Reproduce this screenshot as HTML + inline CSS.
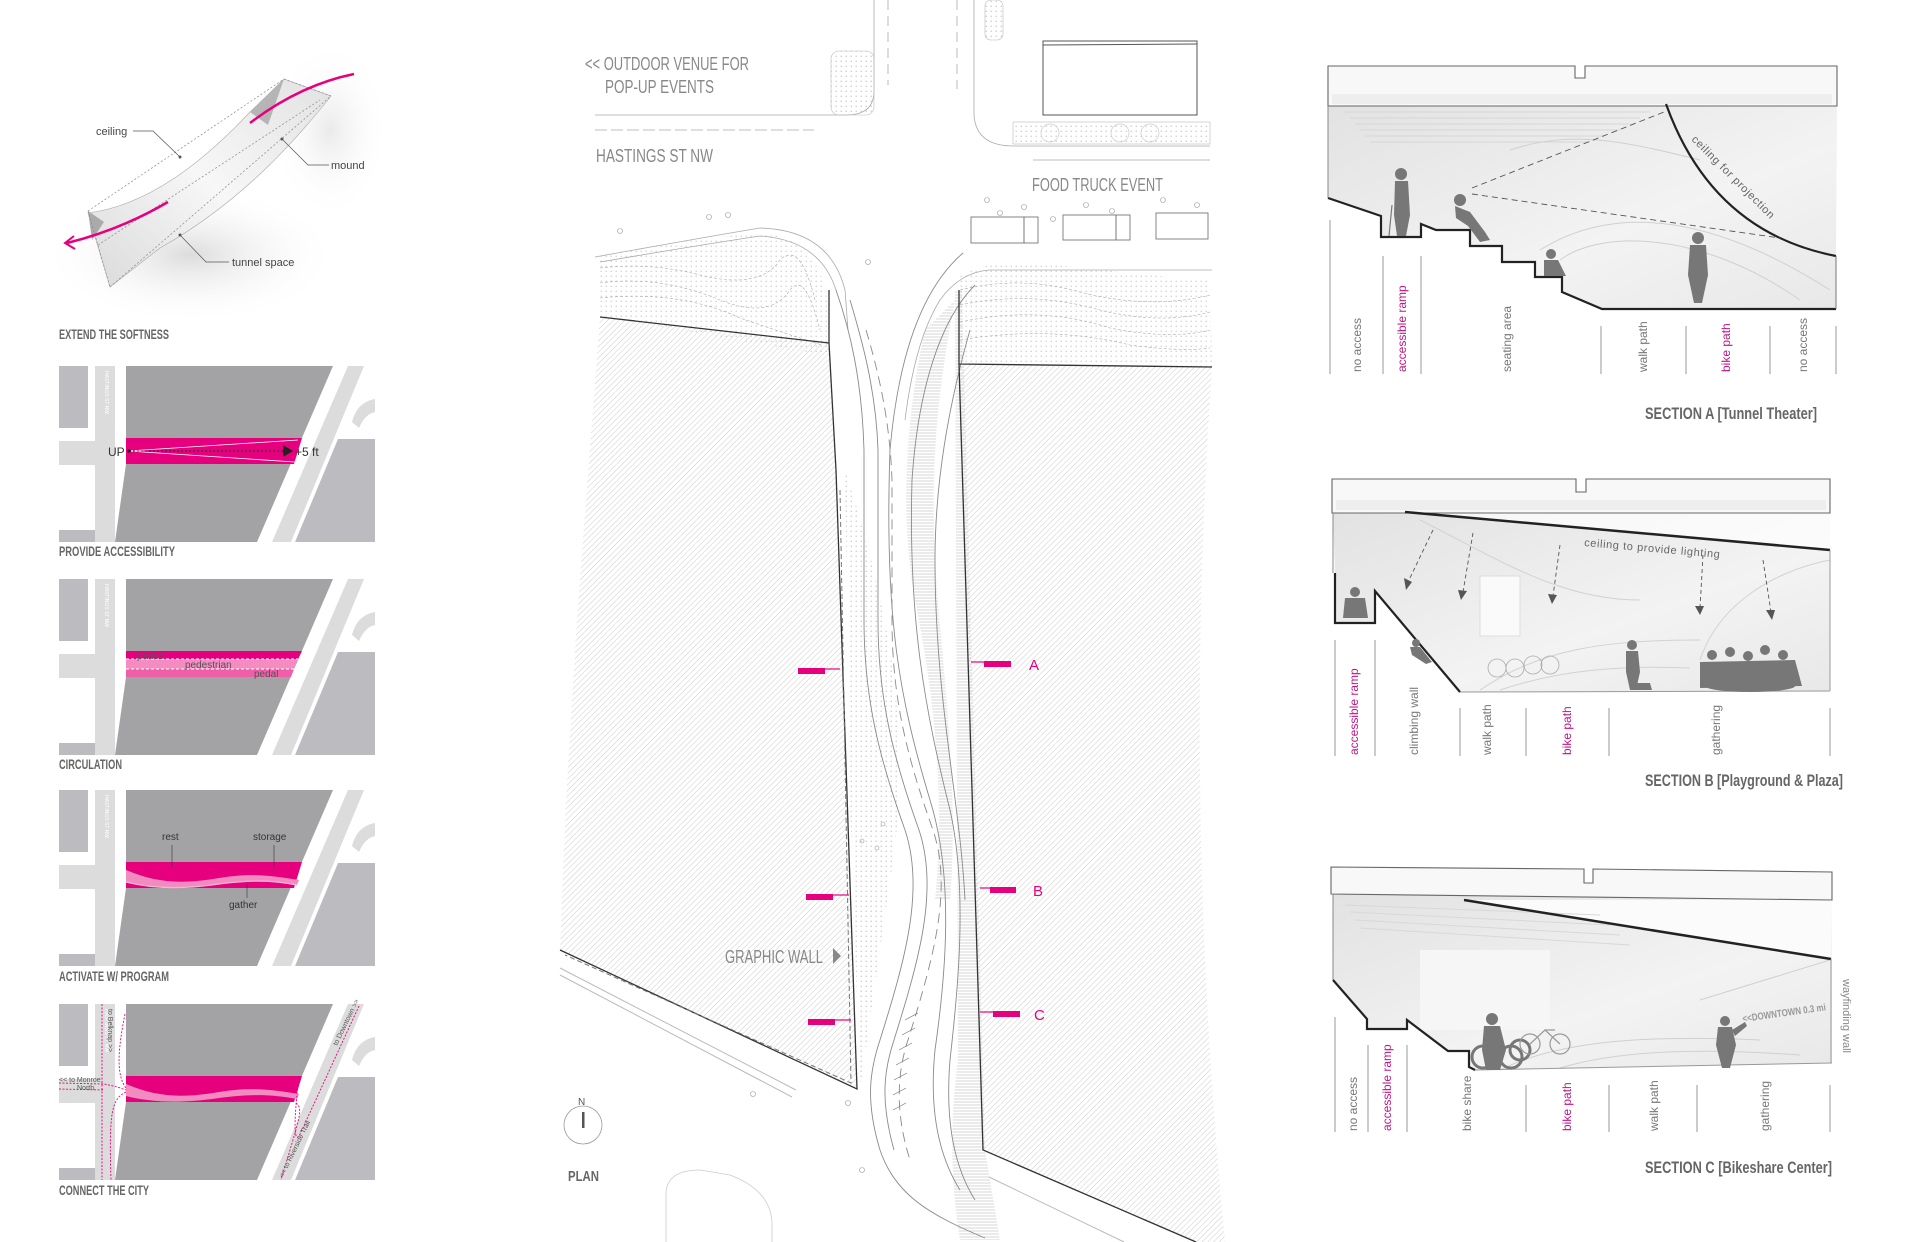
<!DOCTYPE html>
<html><head><meta charset="utf-8"><style>
html,body{margin:0;padding:0;background:#fff;}
svg{display:block;}
.t{font-family:"Liberation Sans",sans-serif;}
.c{font-family:"Liberation Sans Narrow","Liberation Sans",sans-serif;}
</style></head><body>
<svg width="1920" height="1242" viewBox="0 0 1920 1242" xmlns="http://www.w3.org/2000/svg">
<defs>
<pattern id="h" width="4" height="4" patternUnits="userSpaceOnUse" patternTransform="rotate(45)"><line x1="0" y1="0" x2="0" y2="4" stroke="#c6c6c6" stroke-width="0.9"/></pattern>
<pattern id="d" width="5" height="5" patternUnits="userSpaceOnUse"><circle cx="1.2" cy="1.2" r="0.6" fill="#b0b0b0"/></pattern>
<pattern id="hz" width="4" height="3" patternUnits="userSpaceOnUse"><line x1="0" y1="1" x2="4" y2="1" stroke="#bbb" stroke-width="0.6"/></pattern>
<radialGradient id="rg" cx="0.6" cy="0.4" r="0.75"><stop offset="0.45" stop-color="#fff"/><stop offset="1" stop-color="#f0f0f0" stop-opacity="0"/></radialGradient>
<radialGradient id="sh" cx="0.5" cy="0.5" r="0.5"><stop offset="0" stop-color="#dcdcdc"/><stop offset="1" stop-color="#fff" stop-opacity="0"/></radialGradient>
<linearGradient id="sg" x1="0" y1="0" x2="1" y2="1"><stop offset="0" stop-color="#e2e2e2"/><stop offset="0.6" stop-color="#f3f3f3"/><stop offset="1" stop-color="#e8e8e8"/></linearGradient>
<linearGradient id="rib" x1="0" y1="1" x2="1" y2="0"><stop offset="0" stop-color="#dadada"/><stop offset="0.5" stop-color="#f7f7f7"/><stop offset="1" stop-color="#e2e2e2"/></linearGradient>
<g id="pb">
<rect x="0" y="0" width="29" height="62" fill="#bcbcc0"/>
<rect x="0" y="75" width="56" height="24" fill="#dcdcdc"/>
<rect x="36" y="0" width="20" height="176" fill="#dcdcdc"/>
<rect x="0" y="164" width="36" height="12" fill="#bcbcc0"/>
<polygon points="67,0 274,0 198,176 56,176 67,98" fill="#a3a3a5"/>
<polygon points="289,0 305,0 232,176 213,176" fill="#dcdcdc"/>
<path d="M293,56 Q298,36 316,33 L316,46 Q306,48 300,62 Z" fill="#dcdcdc"/>
<polygon points="279,73 316,73 316,176 236,176" fill="#bcbcc0"/>
<text x="46" y="5" transform="rotate(90 46 5)" font-size="5" fill="#fff" class="t">HASTINGS ST NW</text>
</g>
</defs>

<!-- ===== LEFT COLUMN ===== -->
<ellipse cx="190" cy="255" rx="150" ry="70" fill="url(#sh)"/>
<ellipse cx="330" cy="130" rx="60" ry="90" fill="url(#sh)" opacity="0.6"/>
<path d="M88,213 C150,205 205,160 250,112 L284,79 L331,96 C300,135 245,200 160,248 L110,287 Z" fill="url(#rib)" stroke="#aaa" stroke-width="0.6"/>
<path d="M250,112 L284,79 L268,125 Z" fill="#b5b5b5"/>
<path d="M88,211 L104,222 L92,240 Z" fill="#aaa"/>
<g stroke="#888" stroke-width="0.7" stroke-dasharray="2,2" fill="none">
<line x1="88" y1="211" x2="284" y2="79"/><line x1="110" y1="287" x2="331" y2="96"/>
<line x1="88" y1="211" x2="110" y2="287"/><line x1="284" y1="79" x2="331" y2="96"/>
<line x1="98" y1="245" x2="320" y2="100"/>
</g>
<path d="M354,74 Q300,85 250,123" stroke="#e6007e" stroke-width="2.5" fill="none"/>
<path d="M168,202 Q120,230 67,243" stroke="#e6007e" stroke-width="2.5" fill="none"/>
<path d="M74,236 L65,243 L75,249" stroke="#e6007e" stroke-width="2" fill="none"/>
<g stroke="#555" stroke-width="0.7" fill="none">
<polyline points="133,131 153,131 180,157"/><polyline points="282,139 308,165 329,165"/><polyline points="180,235 206,262 229,262"/>
</g>
<circle cx="180" cy="157" r="1.5" fill="#555"/><circle cx="282" cy="139" r="1.5" fill="#555"/><circle cx="180" cy="235" r="1.5" fill="#555"/>
<text x="96" y="135" font-size="11" fill="#444" class="t">ceiling</text>
<text x="331" y="169" font-size="11" fill="#444" class="t">mound</text>
<text x="232" y="266" font-size="11" fill="#444" class="t">tunnel space</text>
<text x="59" y="339" font-size="14" font-weight="bold" fill="#666" class="c" textLength="110" lengthAdjust="spacingAndGlyphs">EXTEND THE SOFTNESS</text>

<!-- panel 2 -->
<g transform="translate(59,366)">
<use href="#pb"/>
<polygon points="67,72 243,72 235,98 67,98" fill="#e6007e"/>
<polyline points="69,85 239,74" stroke="#fff" stroke-width="0.8" fill="none"/><polyline points="69,85 236,96" stroke="#fff" stroke-width="0.8" fill="none"/>
<line x1="70" y1="85" x2="226" y2="85" stroke="#222" stroke-width="1" stroke-dasharray="2,2"/>
<circle cx="70" cy="85" r="1.8" fill="#222"/>
<polygon points="224,79 234,85 224,91" fill="#222"/>
<text x="49" y="90" font-size="12" fill="#333" class="t">UP</text>
<text x="236" y="90" font-size="12" fill="#333" class="t">+5 ft</text>
</g>
<text x="59" y="556" font-size="14" font-weight="bold" fill="#666" class="c" textLength="116" lengthAdjust="spacingAndGlyphs">PROVIDE ACCESSIBILITY</text>

<!-- panel 3 -->
<g transform="translate(59,579)">
<use href="#pb"/>
<polygon points="67,72 243,72 239,80 67,80" fill="#e6007e"/>
<polygon points="67,80 239,80 235,90 67,90" fill="#f38cc0"/>
<polygon points="67,90 235,90 232,98 67,98" fill="#ee5fa8"/>
<line x1="67" y1="80" x2="239" y2="80" stroke="#fff" stroke-width="1" stroke-dasharray="3,2"/>
<line x1="67" y1="90" x2="235" y2="90" stroke="#fff" stroke-width="1" stroke-dasharray="3,2"/>
<text x="78" y="80" font-size="10" fill="#555" class="t">pause</text>
<text x="126" y="89" font-size="10" fill="#555" class="t">pedestrian</text>
<text x="195" y="98" font-size="10" fill="#555" class="t">pedal</text>
</g>
<text x="59" y="769" font-size="14" font-weight="bold" fill="#666" class="c" textLength="63" lengthAdjust="spacingAndGlyphs">CIRCULATION</text>

<!-- panel 4 -->
<g transform="translate(59,790)">
<use href="#pb"/>
<polygon points="67,72 243,72 235,98 67,98" fill="#e6007e"/>
<path d="M67,80 C95,92 120,95 160,88 C190,83 210,85 240,90 L238,95 C212,90 190,90 160,94 C120,100 90,98 67,92 Z" fill="#f28cc0"/>
<path d="M67,92 C90,98 120,100 160,94 C190,90 212,90 238,95" stroke="#f7b5d6" stroke-width="1.2" fill="none"/>
<g stroke="#333" stroke-width="0.6"><line x1="113" y1="55" x2="113" y2="77"/><line x1="215" y1="55" x2="215" y2="77"/><line x1="188" y1="94" x2="188" y2="108"/></g>
<text x="103" y="50" font-size="10" fill="#333" class="t">rest</text>
<text x="194" y="50" font-size="10" fill="#333" class="t">storage</text>
<text x="170" y="118" font-size="10" fill="#333" class="t">gather</text>
</g>
<text x="59" y="981" font-size="14" font-weight="bold" fill="#666" class="c" textLength="110" lengthAdjust="spacingAndGlyphs">ACTIVATE W/ PROGRAM</text>

<!-- panel 5 -->
<g transform="translate(59,1004)">
<use href="#pb"/>
<polygon points="67,72 243,72 235,98 67,98" fill="#e6007e"/>
<path d="M67,80 C95,92 120,95 160,88 C190,83 210,85 240,90 L238,95 C212,90 190,90 160,94 C120,100 90,98 67,92 Z" fill="#f28cc0"/>
<g stroke="#e6007e" stroke-width="0.9" stroke-dasharray="2,1.5" fill="none">
<line x1="43" y1="0" x2="43" y2="176"/>
<path d="M0,79 L45,80 C55,82 62,84 67,86"/>
<path d="M0,85 L45,86"/>
<path d="M66,10 C60,40 56,70 67,84"/>
<path d="M67,88 C52,95 50,110 52,176"/>
<path d="M300,2 L242,128 C238,138 232,140 240,72"/>
<path d="M237,99 C245,105 240,115 222,176"/>
</g>
<text x="49" y="5" transform="rotate(90 49 5)" font-size="7" fill="#555" class="t">to Belknap &gt;&gt;</text>
<text x="0" y="78" font-size="7" fill="#555" class="t">&lt;&lt; to Monroe</text>
<text x="18" y="86" font-size="7" fill="#555" class="t">North</text>
<text x="278" y="42" transform="rotate(-64 278 42)" font-size="7" fill="#555" class="t">to Downtown &gt;&gt;</text>
<text x="224" y="174" transform="rotate(-64 224 174)" font-size="7" fill="#555" class="t">&lt;&lt; to Riverside Trail</text>
</g>
<text x="59" y="1195" font-size="14" font-weight="bold" fill="#666" class="c" textLength="90" lengthAdjust="spacingAndGlyphs">CONNECT THE CITY</text>

<!-- ===== PLAN ===== -->
<g stroke="#aaa" stroke-width="0.8" fill="none">
<path d="M874,0 L874,91 Q874,115 846,115 L595,115"/>
<line x1="888" y1="0" x2="888" y2="85" stroke-dasharray="10,6"/>
<line x1="957" y1="0" x2="957" y2="89" stroke-dasharray="10,6"/>
<line x1="595" y1="130" x2="814" y2="130" stroke-dasharray="12,4"/>
<path d="M974,0 L974,115 Q976,146 1013,146 L1210,146"/>
<line x1="1033" y1="160" x2="1210" y2="160"/>
<path d="M595,257 Q700,238 760,228 Q830,230 845,290 L848,330"/>
<path d="M600,262 Q700,245 760,236 Q820,240 836,290"/>
<path d="M1212,270 L990,270 Q960,272 940,300 Q915,340 905,420"/>
</g>
<rect x="831" y="51" width="43" height="64" rx="8" fill="url(#d)" stroke="#bbb" stroke-width="0.6"/>
<rect x="985" y="0" width="18" height="40" rx="6" fill="url(#d)" stroke="#bbb" stroke-width="0.6"/>
<rect x="1013" y="122" width="197" height="22" fill="url(#d)" stroke="#bbb" stroke-width="0.6"/>
<g fill="none" stroke="#ccc" stroke-width="0.7"><circle cx="1050" cy="133" r="9"/><circle cx="1120" cy="133" r="9"/><circle cx="1150" cy="133" r="9"/></g>
<g fill="none" stroke="#555" stroke-width="1"><rect x="1043" y="41" width="154" height="74"/><line x1="1043" y1="45" x2="1197" y2="44"/></g>
<g fill="none" stroke="#777" stroke-width="0.9">
<rect x="971" y="217" width="53" height="26"/><rect x="1024" y="217" width="14" height="26"/>
<rect x="1063" y="215" width="53" height="25"/><rect x="1116" y="215" width="14" height="25"/>
<rect x="1156" y="213" width="52" height="26"/>
</g>
<g fill="none" stroke="#999" stroke-width="0.6">
<circle cx="987" cy="200" r="2.5"/><circle cx="1000" cy="213" r="2.5"/><circle cx="1024" cy="207" r="2.5"/><circle cx="1053" cy="219" r="2.5"/><circle cx="1086" cy="205" r="2.5"/><circle cx="1112" cy="211" r="2.5"/><circle cx="1163" cy="200" r="2.5"/><circle cx="1197" cy="205" r="2.5"/>
<circle cx="620" cy="231" r="2.5"/><circle cx="709" cy="217" r="2.5"/><circle cx="728" cy="215" r="2.5"/><circle cx="868" cy="262" r="2.5"/><circle cx="753" cy="1094" r="2.5"/><circle cx="848" cy="1103" r="2.5"/><circle cx="862" cy="1170" r="2.5"/><circle cx="862" cy="841" r="2"/><circle cx="877" cy="848" r="2"/><circle cx="883" cy="824" r="2"/>
</g>
<path d="M600,255 Q680,240 760,233 Q810,235 826,289 L831,356 L600,316 Z" fill="url(#d)" opacity="0.9"/>
<path d="M959,277 Q990,258 1037,263 Q1120,272 1210,281 L1212,367 L959,364 Z" fill="url(#d)" opacity="0.9"/>
<g fill="none" stroke="#aaa" stroke-width="0.6" stroke-dasharray="3,2">
<path d="M600,268 Q650,262 700,275 Q760,290 780,260 Q800,240 815,300"/>
<path d="M600,283 Q660,275 720,300 Q770,320 790,290 Q805,270 820,330"/>
<path d="M600,298 Q680,290 740,318 Q790,335 822,345"/>
<path d="M960,290 Q1020,275 1080,292 Q1150,310 1210,295"/>
<path d="M960,305 Q1030,290 1100,310 Q1160,325 1210,312"/>
<path d="M960,322 Q1040,305 1110,328 Q1170,340 1210,330"/>
<path d="M960,340 Q1050,325 1130,345 Q1180,352 1210,348"/>
</g>
<path d="M845,470 C900,640 910,760 890,880 L860,1089 L850,800 Z" fill="url(#d)"/>
<path d="M955,290 L962,290 L985,1150 L1000,1240 L960,1240 C950,1180 950,1120 958,1060 Z" fill="url(#hz)"/>
<path d="M925,330 C905,420 900,520 915,600 C935,700 945,800 935,900 L950,900 C960,780 940,650 935,560 C930,450 940,380 955,300 Z" fill="url(#hz)"/>
<g fill="none" stroke="#8a8a8a" stroke-width="0.9">
<path d="M836,290 C850,330 862,380 864,450 L864,620 C864,700 880,760 905,830 C925,890 905,960 880,1040 C870,1070 865,1100 880,1150 C895,1195 930,1215 985,1238"/>
<path d="M850,300 C862,340 876,390 878,450 L878,620 C878,700 894,760 919,830 C939,890 919,960 894,1040 C884,1070 880,1100 894,1150"/>
<path d="M866,330 C878,370 890,420 892,480 L892,620 C892,700 908,760 933,830 C953,890 933,960 908,1040 C898,1070 894,1110 910,1160" stroke-dasharray="10,6"/>
<path d="M963,253 C920,290 898,360 890,450 C884,620 900,700 930,800 C955,880 945,980 935,1050 C930,1100 935,1150 960,1190"/>
<path d="M975,285 C940,320 918,390 912,480 C908,620 925,710 950,810 C968,890 958,990 950,1060 C946,1110 950,1160 975,1200"/>
<path d="M970,330 C950,400 935,480 935,560 C935,700 960,800 965,900"/>
</g>
<g stroke="#777" stroke-width="0.7">
<line x1="905" y1="1020" x2="918" y2="1013"/><line x1="902" y1="1035" x2="915" y2="1028"/><line x1="899" y1="1050" x2="912" y2="1043"/><line x1="896" y1="1065" x2="909" y2="1058"/><line x1="894" y1="1080" x2="907" y2="1073"/><line x1="893" y1="1095" x2="906" y2="1088"/><line x1="893" y1="1110" x2="906" y2="1103"/>
</g>
<polygon points="600,317 829,343 836,470 857,1089 560,950 566,800 577,620" fill="url(#h)"/>
<polyline points="600,317 829,343" stroke="#333" stroke-width="1.3" fill="none"/>
<polyline points="829,290 829,343 836,470 857,1089 560,950" stroke="#333" stroke-width="1.3" fill="none"/>
<polyline points="840,490 851,1083 565,955" stroke="#777" stroke-width="1" stroke-dasharray="5,3" fill="none"/>
<line x1="560" y1="968" x2="796" y2="1090" stroke="#bbb" stroke-width="1"/>
<line x1="560" y1="975" x2="792" y2="1097" stroke="#bbb" stroke-width="1"/>
<path d="M959,364 L1212,367 Q1182,800 1225,1242 L1196,1242 L983,1150 Z" fill="url(#h)"/>
<polyline points="1212,367 959,364 959,290" stroke="#333" stroke-width="1.3" fill="none"/>
<polyline points="959,364 983,1150 1196,1242" stroke="#333" stroke-width="1.3" fill="none"/>
<line x1="989" y1="1177" x2="1124" y2="1242" stroke="#bbb" stroke-width="1"/>
<path d="M666,1242 L666,1192 Q668,1170 700,1170 L730,1175 Q770,1190 772,1222 L772,1242" stroke="#ccc" stroke-width="0.8" fill="none"/>
<g fill="#e6007e">
<rect x="798" y="668" width="27" height="6"/><line x1="825" y1="669" x2="840" y2="669" stroke="#e6007e" stroke-width="1.2"/>
<rect x="984" y="661" width="27" height="6"/><line x1="971" y1="662" x2="984" y2="662" stroke="#e6007e" stroke-width="1.2"/>
<rect x="806" y="894" width="27" height="6"/><line x1="833" y1="895" x2="849" y2="895" stroke="#e6007e" stroke-width="1.2"/>
<rect x="990" y="887" width="26" height="6"/><line x1="980" y1="888" x2="990" y2="888" stroke="#e6007e" stroke-width="1.2"/>
<rect x="808" y="1019" width="27" height="6"/><line x1="835" y1="1020" x2="851" y2="1020" stroke="#e6007e" stroke-width="1.2"/>
<rect x="993" y="1011" width="27" height="6"/><line x1="980" y1="1012" x2="993" y2="1012" stroke="#e6007e" stroke-width="1.2"/>
</g>
<g fill="#e6007e" font-size="15" class="c"><text x="1029" y="670">A</text><text x="1033" y="896">B</text><text x="1034" y="1020">C</text></g>
<g fill="#888" font-size="18" class="c">
<text x="585" y="70" textLength="164" lengthAdjust="spacingAndGlyphs">&lt;&lt; OUTDOOR VENUE FOR</text>
<text x="605" y="93" textLength="109" lengthAdjust="spacingAndGlyphs">POP-UP EVENTS</text>
<text x="596" y="162" textLength="117" lengthAdjust="spacingAndGlyphs">HASTINGS ST NW</text>
<text x="1032" y="191" textLength="131" lengthAdjust="spacingAndGlyphs">FOOD TRUCK EVENT</text>
<text x="725" y="963" textLength="98" lengthAdjust="spacingAndGlyphs">GRAPHIC WALL</text>
</g>
<polygon points="833,948 841,956 833,964" fill="#888"/>
<circle cx="583" cy="1125" r="19" fill="none" stroke="#999" stroke-width="0.8"/>
<rect x="582" y="1112" width="2.5" height="16" fill="#555"/>
<text x="578" y="1105" font-size="10" fill="#555" class="t">N</text>
<text x="568" y="1181" font-size="15" font-weight="bold" fill="#666" class="c" textLength="31" lengthAdjust="spacingAndGlyphs">PLAN</text>

<!-- ===== SECTION A ===== -->
<path d="M1328,106 L1837,106 L1836,256 Q1712,232 1666,104 Z M1328,106 L1328,198 L1381,216 L1381,237 L1421,237 L1421,224 L1436,230 L1470,230 L1470,246 L1502,246 L1502,262 L1535,262 L1535,277 L1562,277 L1562,292 L1602,309 L1836,309 L1836,256 Q1712,232 1666,104 L1328,106" fill="url(#sg)" fill-rule="nonzero"/>
<path d="M1328,106 L1328,66 L1575,66 L1575,78 L1585,78 L1585,66 L1837,66 L1837,106 Z" fill="#f8f8f8" stroke="#666" stroke-width="1.1"/>
<rect x="1332" y="94" width="500" height="10" fill="#eee"/>
<g stroke="#d6d6d6" stroke-width="1"><line x1="1345" y1="112" x2="1650" y2="112"/><line x1="1350" y1="118" x2="1640" y2="118"/><line x1="1355" y1="124" x2="1630" y2="124"/><line x1="1360" y1="130" x2="1620" y2="130"/><line x1="1365" y1="136" x2="1605" y2="136"/><line x1="1370" y1="142" x2="1590" y2="142"/></g>
<g stroke="#d0d0d0" fill="none" stroke-width="1"><path d="M1560,260 C1600,230 1700,230 1800,300"/><path d="M1540,250 C1620,200 1720,220 1830,290"/><path d="M1510,150 C1570,130 1620,140 1700,160"/></g>
<polyline points="1328,198 1381,216 1381,237 1421,237 1421,224 1436,230 1470,230 1470,246 1502,246 1502,262 1535,262 1535,277 1562,277 1562,292 1602,309 1836,309" fill="none" stroke="#222" stroke-width="2.2"/>
<line x1="1328" y1="106" x2="1328" y2="198" stroke="#888" stroke-width="1"/>
<path d="M1666,104 Q1712,232 1836,256" fill="none" stroke="#222" stroke-width="2.2"/>
<line x1="1836" y1="256" x2="1836" y2="309" stroke="#777" stroke-width="1"/>
<g stroke="#555" stroke-width="0.9" stroke-dasharray="6,4"><line x1="1472" y1="188" x2="1664" y2="112"/><line x1="1472" y1="194" x2="1780" y2="238"/></g>
<g fill="#777">
<circle cx="1401" cy="174" r="6"/><path d="M1395,181 L1408,181 L1410,215 L1406,236 L1397,236 L1394,215 Z"/><line x1="1392" y1="205" x2="1389" y2="236" stroke="#777" stroke-width="1.2"/>
<circle cx="1460" cy="200" r="6"/><path d="M1455,206 L1470,212 L1485,232 L1490,240 L1480,242 L1468,226 L1456,218 Z"/>
<circle cx="1551" cy="254" r="5"/><path d="M1544,260 L1558,260 L1566,276 L1544,276 Z"/>
<circle cx="1698" cy="238" r="6"/><path d="M1690,245 L1706,245 L1708,275 L1702,303 L1694,303 L1688,275 Z"/>
</g>
<g stroke="#999" stroke-width="1"><line x1="1330" y1="220" x2="1330" y2="374"/><line x1="1383" y1="256" x2="1383" y2="374"/><line x1="1421" y1="256" x2="1421" y2="374"/><line x1="1601" y1="326" x2="1601" y2="374"/><line x1="1686" y1="326" x2="1686" y2="374"/><line x1="1770" y1="326" x2="1770" y2="374"/><line x1="1836" y1="326" x2="1836" y2="374"/></g>
<g font-size="12" class="t">
<text transform="translate(1361,372) rotate(-90)" fill="#777">no access</text>
<text transform="translate(1406,372) rotate(-90)" fill="#c0168a">accessible ramp</text>
<text transform="translate(1511,372) rotate(-90)" fill="#777">seating area</text>
<text transform="translate(1647,372) rotate(-90)" fill="#777">walk path</text>
<text transform="translate(1730,372) rotate(-90)" fill="#c0168a">bike path</text>
<text transform="translate(1807,372) rotate(-90)" fill="#777">no access</text>
</g>
<text x="1691" y="140" transform="rotate(45 1691 140)" font-size="11" fill="#666" class="t" textLength="112">ceiling  for  projection</text>
<text x="1645" y="419" font-size="17" font-weight="bold" fill="#666" class="c" textLength="172" lengthAdjust="spacingAndGlyphs">SECTION A    [Tunnel Theater]</text>

<!-- ===== SECTION B ===== -->
<polygon points="1333,513 1830,513 1830,691 1460,692 1375,591 1375,623 1335,623 1335,573" fill="url(#sg)"/>
<polygon points="1405,513 1830,513 1830,550" fill="#fff" opacity="0.7"/>
<path d="M1332,513 L1332,479 L1576,479 L1576,492 L1586,492 L1586,479 L1830,479 L1830,513 Z" fill="#f8f8f8" stroke="#666" stroke-width="1.1"/>
<rect x="1336" y="500" width="490" height="10" fill="#eee"/>
<g stroke="#d2d2d2" fill="none"><path d="M1420,520 C1500,560 1560,600 1640,600"/><path d="M1700,660 C1720,600 1780,570 1830,560"/><path d="M1480,690 C1540,650 1600,640 1700,640"/><path d="M1500,690 C1560,670 1620,665 1690,668"/></g>
<rect x="1480" y="576" width="40" height="60" fill="#fafafa" stroke="#ddd"/>
<line x1="1405" y1="512" x2="1830" y2="550" stroke="#222" stroke-width="2.5"/>
<polyline points="1335,573 1335,623 1375,623 1375,591 1460,692" fill="none" stroke="#222" stroke-width="2.2"/>
<line x1="1333" y1="513" x2="1333" y2="573" stroke="#888"/>
<line x1="1460" y1="692" x2="1830" y2="691" stroke="#999"/>
<line x1="1830" y1="550" x2="1830" y2="691" stroke="#999"/>
<g stroke="#555" stroke-width="0.9" stroke-dasharray="4,3"><line x1="1433" y1="530" x2="1409" y2="580"/><line x1="1473" y1="533" x2="1463" y2="592"/><line x1="1560" y1="545" x2="1553" y2="596"/><line x1="1703" y1="555" x2="1700" y2="608"/><line x1="1763" y1="560" x2="1771" y2="612"/></g>
<g fill="#555"><polygon points="1404,578 1412,582 1406,590"/><polygon points="1458,590 1467,591 1461,600"/><polygon points="1548,594 1557,595 1552,604"/><polygon points="1695,606 1704,606 1700,615"/><polygon points="1766,610 1775,610 1772,620"/></g>
<g fill="#777">
<circle cx="1355" cy="592" r="5"/><path d="M1345,598 L1365,598 L1368,618 L1343,618 Z"/>
<circle cx="1416" cy="643" r="4"/><path d="M1410,647 L1420,647 L1432,662 L1426,664 L1412,655 Z"/>
<circle cx="1632" cy="645" r="5"/><path d="M1626,651 L1638,651 L1640,672 L1636,690 L1630,690 L1626,672 Z"/>
<path d="M1636,683 L1650,683 L1652,690 L1634,690 Z"/>
<ellipse cx="1750" cy="686" rx="45" ry="6"/>
<circle cx="1712" cy="655" r="5"/><circle cx="1730" cy="652" r="5"/><circle cx="1748" cy="656" r="5"/><circle cx="1765" cy="650" r="5"/><circle cx="1783" cy="655" r="5"/>
<path d="M1700,662 L1795,660 L1802,686 L1700,688 Z"/>
</g>
<g fill="none" stroke="#aaa" stroke-width="0.8"><circle cx="1497" cy="668" r="9"/><circle cx="1515" cy="668" r="9"/><circle cx="1533" cy="665" r="9"/><circle cx="1550" cy="665" r="9"/></g>
<g stroke="#999" stroke-width="1"><line x1="1335" y1="640" x2="1335" y2="756"/><line x1="1375" y1="640" x2="1375" y2="756"/><line x1="1460" y1="708" x2="1460" y2="756"/><line x1="1526" y1="708" x2="1526" y2="756"/><line x1="1609" y1="708" x2="1609" y2="756"/><line x1="1830" y1="708" x2="1830" y2="756"/></g>
<g font-size="12" class="t">
<text transform="translate(1358,755) rotate(-90)" fill="#c0168a">accessible ramp</text>
<text transform="translate(1418,755) rotate(-90)" fill="#777">climbing wall</text>
<text transform="translate(1491,755) rotate(-90)" fill="#777">walk path</text>
<text transform="translate(1571,755) rotate(-90)" fill="#c0168a">bike path</text>
<text transform="translate(1720,755) rotate(-90)" fill="#777">gathering</text>
</g>
<text x="1584" y="546" transform="rotate(5 1584 546)" font-size="11" fill="#666" class="t" textLength="136">ceiling  to  provide  lighting</text>
<text x="1645" y="786" font-size="17" font-weight="bold" fill="#666" class="c" textLength="198" lengthAdjust="spacingAndGlyphs">SECTION B    [Playground &amp; Plaza]</text>

<!-- ===== SECTION C ===== -->
<polygon points="1333,894 1832,900 1832,1063 1475,1070 1469,1067 1469,1051 1448,1051 1407,1020 1407,1029 1367,1029 1367,1019 1333,980" fill="url(#sg)"/>
<polygon points="1464,900 1832,900 1831,959" fill="#fbfbfb"/>
<rect x="1420" y="950" width="130" height="80" fill="#f6f6f6"/>
<path d="M1331,894 L1331,867 L1584,869 L1584,883 L1593,883 L1593,869 L1832,872 L1832,900 Z" fill="#f8f8f8" stroke="#666" stroke-width="1.1"/>
<g stroke="#d8d8d8"><line x1="1345" y1="905" x2="1600" y2="915"/><line x1="1350" y1="912" x2="1610" y2="925"/><line x1="1355" y1="920" x2="1620" y2="935"/><line x1="1360" y1="928" x2="1630" y2="945"/></g>
<g stroke="#d0d0d0" fill="none"><path d="M1500,1070 C1560,1040 1650,1035 1760,1040"/><path d="M1560,1068 C1620,1050 1700,1048 1800,1055"/><path d="M1700,1000 L1830,960"/></g>
<line x1="1464" y1="900" x2="1831" y2="959" stroke="#222" stroke-width="2.5"/>
<polyline points="1333,980 1367,1019 1367,1029 1407,1029 1407,1020 1448,1051 1469,1051 1469,1067 1475,1070" fill="none" stroke="#222" stroke-width="2.2"/>
<line x1="1333" y1="894" x2="1333" y2="980" stroke="#888"/>
<line x1="1475" y1="1070" x2="1832" y2="1063" stroke="#999"/>
<line x1="1831" y1="959" x2="1831" y2="1063" stroke="#999"/>
<g fill="#777">
<circle cx="1492" cy="1019" r="6"/><path d="M1484,1026 L1500,1026 L1506,1050 L1500,1070 L1486,1070 L1482,1050 Z"/>
<circle cx="1725" cy="1021" r="5"/><path d="M1718,1027 L1732,1027 L1736,1045 L1730,1068 L1722,1068 L1716,1045 Z"/><path d="M1732,1030 L1745,1022 L1747,1026 L1735,1036 Z"/>
</g>
<g fill="none" stroke="#777" stroke-width="3"><circle cx="1483" cy="1057" r="11"/><circle cx="1511" cy="1057" r="11"/><circle cx="1520" cy="1050" r="10"/></g>
<g fill="none" stroke="#999" stroke-width="1.2"><circle cx="1530" cy="1044" r="10"/><circle cx="1560" cy="1044" r="10"/><path d="M1530,1044 L1545,1030 L1560,1044 M1545,1030 L1555,1030"/></g>
<text x="1743" y="1022" transform="rotate(-8 1743 1022)" font-size="10" font-weight="bold" fill="#999" class="c" textLength="84" lengthAdjust="spacingAndGlyphs">&lt;&lt;DOWNTOWN 0.3 mi</text>
<text x="1843" y="979" transform="rotate(90 1843 979)" font-size="11" fill="#888" class="t">wayfinding wall</text>
<g stroke="#999" stroke-width="1"><line x1="1335" y1="1017" x2="1335" y2="1132"/><line x1="1368" y1="1045" x2="1368" y2="1132"/><line x1="1407" y1="1045" x2="1407" y2="1132"/><line x1="1526" y1="1085" x2="1526" y2="1132"/><line x1="1609" y1="1085" x2="1609" y2="1132"/><line x1="1697" y1="1085" x2="1697" y2="1132"/><line x1="1830" y1="1085" x2="1830" y2="1132"/></g>
<g font-size="12" class="t">
<text transform="translate(1357,1131) rotate(-90)" fill="#777">no access</text>
<text transform="translate(1391,1131) rotate(-90)" fill="#c0168a">accessible ramp</text>
<text transform="translate(1471,1131) rotate(-90)" fill="#777">bike share</text>
<text transform="translate(1571,1131) rotate(-90)" fill="#c0168a">bike path</text>
<text transform="translate(1658,1131) rotate(-90)" fill="#777">walk path</text>
<text transform="translate(1769,1131) rotate(-90)" fill="#777">gathering</text>
</g>
<text x="1645" y="1173" font-size="17" font-weight="bold" fill="#666" class="c" textLength="187" lengthAdjust="spacingAndGlyphs">SECTION C    [Bikeshare Center]</text>
</svg>
</body></html>
